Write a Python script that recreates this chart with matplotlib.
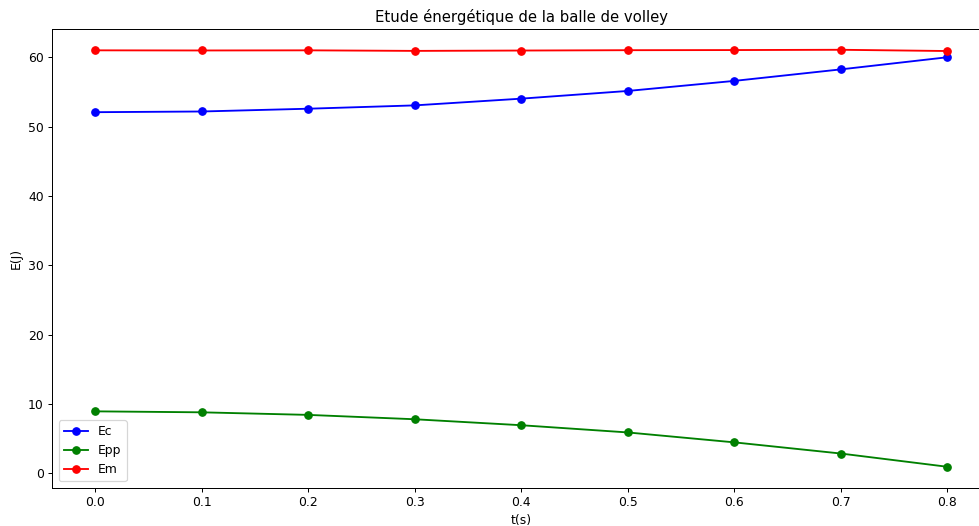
import matplotlib
matplotlib.use("Agg")
from matplotlib import pyplot as plt

t = [0.0, 0.1, 0.2, 0.3, 0.4, 0.5, 0.6, 0.7, 0.8]
ec = [52.08, 52.18, 52.58, 53.06, 54.03, 55.14, 56.59, 58.25, 60.0]
epp = [8.94, 8.8, 8.43, 7.8, 6.94, 5.9, 4.47, 2.86, 0.95]
em = [61.0, 60.98, 61.0, 60.92, 60.97, 61.02, 61.04, 61.08, 60.9]

# the reference text is a bit smaller than at 100 dpi, so use a lower dpi
dpi = 89
fig = plt.figure(figsize=(979 / dpi, 526 / dpi), dpi=dpi)
# the original is cropped on the right, so the axes runs past the edge
plt.subplots_adjust(left=0.0535, right=1.011, top=0.945, bottom=0.073)
plt.plot(t, ec, 'b-o', label='Ec')
plt.plot(t, epp, 'g-o', label='Epp')
plt.plot(t, em, 'r-o', label='Em')
plt.legend(loc='lower left')
plt.xlabel('t(s)')
plt.ylabel('E(J)')
plt.title('Etude énergétique de la balle de volley')
plt.savefig('out.png', dpi=dpi)
plt.close()
